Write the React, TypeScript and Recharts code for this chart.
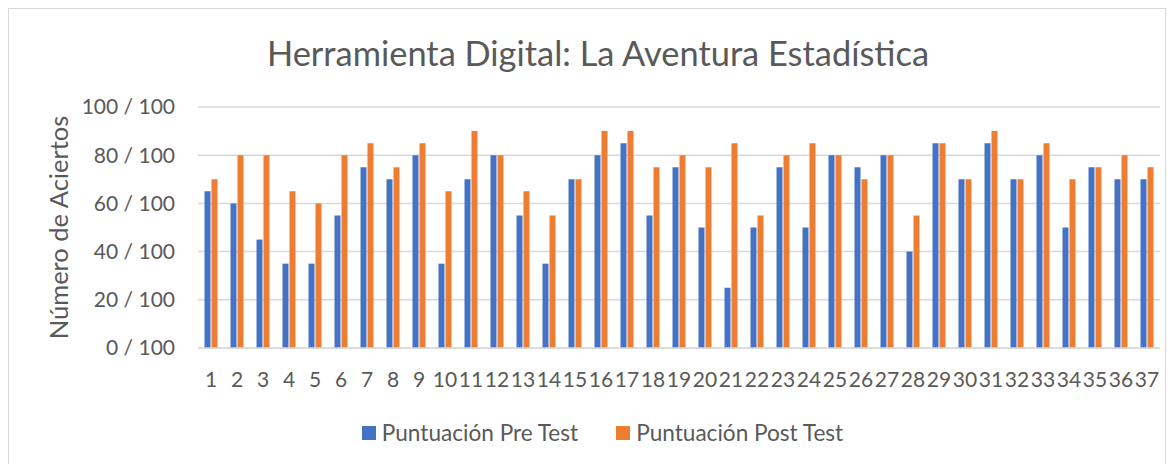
import React from 'react';
import { BarChart, Bar, XAxis, YAxis, CartesianGrid, Label } from 'recharts';

const students = ['1','2','3','4','5','6','7','8','9','10','11','12','13','14','15','16','17','18','19','20','21','22','23','24','25','26','27','28','29','30','31','32','33','34','35','36','37'];
const preTest = [65,60,45,35,35,55,75,70,80,35,70,80,55,35,70,80,85,55,75,50,25,50,75,50,80,75,80,40,85,70,85,70,80,50,75,70,70];
const postTest = [70,80,80,65,60,80,85,75,85,65,90,80,65,55,70,90,90,75,80,75,85,55,80,85,80,70,80,55,85,70,90,70,85,70,75,80,75];
const yTicks = [0, 20, 40, 60, 80, 100];
const chartTitle = 'Herramienta Digital: La Aventura Estadística';
const yAxisTitle = 'Número de Aciertos';
const seriesNames = ['Puntuación Pre Test', 'Puntuación Post Test'];
const seriesColors = ['#4472C4', '#ED7D31'];

const data = students.map((s, i) => ({ name: s, pre: preTest[i], post: postTest[i] }));

const FONT = 'Lato, "Open Sans", sans-serif';
const TEXT = '#595959';
const GRID = '#d9d9d9';

export default function App() {
  return (
    <div style={{ position: 'relative', width: 1156, height: 460, border: '1px solid #d9d9d9', background: '#fff', fontFamily: FONT }}>
      <div style={{ position: 'absolute', top: 27, left: 0, width: 1156, paddingLeft: 22, boxSizing: 'border-box', textAlign: 'center', fontSize: 34.4, lineHeight: '34px', color: TEXT, fontFamily: FONT }}>
        {chartTitle}
      </div>
      <BarChart width={1156} height={460} data={data} margin={{ top: 98, right: 5, bottom: 91, left: 0 }} barCategoryGap="25%" barGap={1}>
        <CartesianGrid vertical={false} stroke={GRID} strokeWidth={1.5} />
        <XAxis dataKey="name" interval={0} tickLine={false} tickSize={0} tickMargin={24} axisLine={{ stroke: GRID, strokeWidth: 1.5 }} tick={{ fill: TEXT, fontSize: 21, fontFamily: FONT }} height={30} />
        <YAxis width={189} domain={[0, 100]} ticks={yTicks} tickFormatter={(v: number) => `${v} / 100`} axisLine={false} tickLine={false} tickSize={0} tickMargin={23} tick={{ fill: TEXT, fontSize: 21, fontFamily: FONT }}>
          <Label value={yAxisTitle} angle={-90} position="insideLeft" offset={50} style={{ textAnchor: 'middle', fill: TEXT, fontSize: 25.5, fontFamily: FONT }} />
        </YAxis>
        <Bar dataKey="pre" name={seriesNames[0]} fill={seriesColors[0]} isAnimationActive={false} />
        <Bar dataKey="post" name={seriesNames[1]} fill={seriesColors[1]} isAnimationActive={false} />
      </BarChart>
      <div style={{ position: 'absolute', top: 410, left: 0, width: 1156, paddingLeft: 31, boxSizing: 'border-box', display: 'flex', justifyContent: 'center', alignItems: 'center', fontSize: 22.6, color: TEXT, fontFamily: FONT }}>
        {seriesNames.map((n, i) => (
          <div key={n} style={{ display: 'flex', alignItems: 'center', marginRight: i === 0 ? 38 : 0 }}>
            <span style={{ display: 'inline-block', width: 14, height: 14, background: seriesColors[i], marginRight: 6 }} />
            <span>{n}</span>
          </div>
        ))}
      </div>
    </div>
  );
}
